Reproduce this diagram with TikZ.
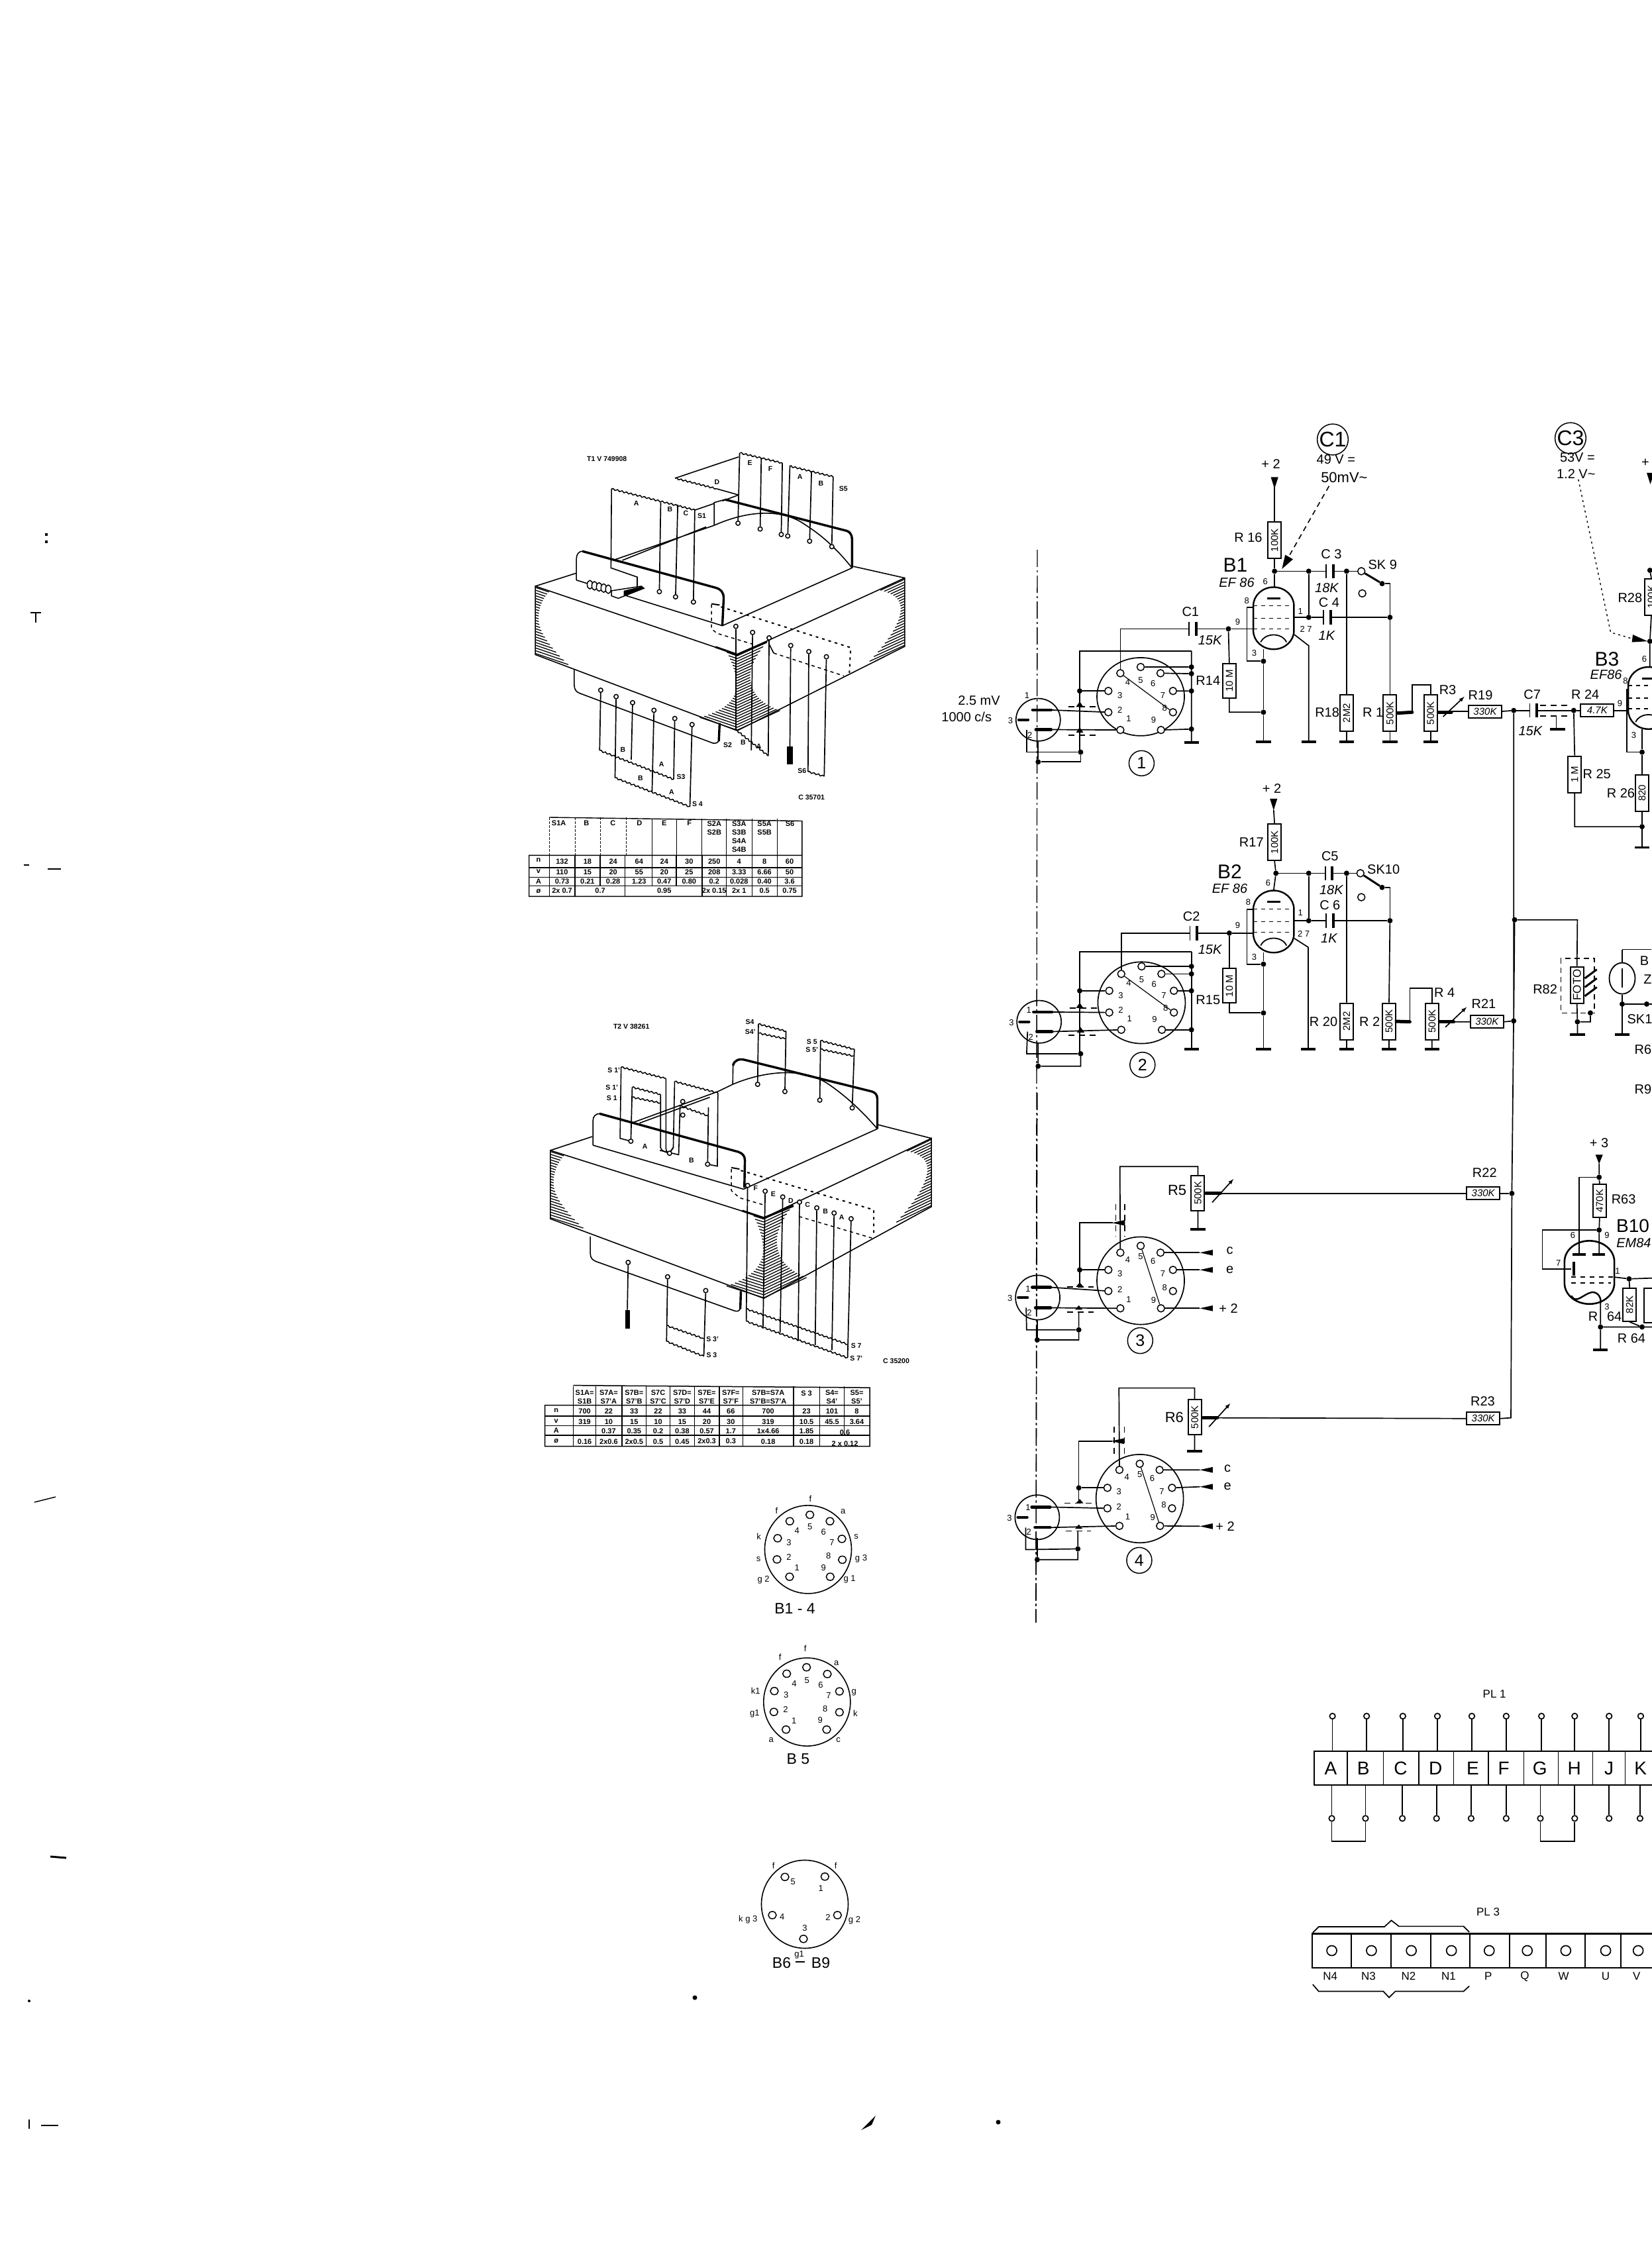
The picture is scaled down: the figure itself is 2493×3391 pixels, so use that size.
\documentclass[tikz,border=0pt]{standalone}
\usepackage{fontspec}
\setmainfont{Liberation Sans}
\usetikzlibrary{shapes.geometric,decorations.pathmorphing}
\newcounter{tn}
\def\yfac{0.67}
\tikzset{
 zA/.style={shift={(1400,620)},x=0.697pt,y=-0.6696pt},
 zB/.style={shift={(1400,1650)},x=0.697pt,y=-0.5421pt},
 zC/.style={shift={(760,660)},x=0.408pt,y=-0.4592pt},
 zD/.style={shift={(790,1520)},x=0.408pt,y=-0.4337pt},
 zE/.style={shift={(1050,2240)},x=0.3333pt,y=-0.4847pt},
 zF/.style={shift={(1950,2540)},x=0.346pt,y=-0.3189pt},
 wire/.style={line width=1.7pt},
 fine/.style={line width=1.2pt},
 heavy/.style={line width=4.5pt},
 bob/.style={line width=3.4pt},
 shield/.style={line width=1.7pt,dash pattern=on 9pt off 7pt},
 txt/.style={inner sep=0pt,font=\fontsize{20}{22}\selectfont},
 tsm/.style={font=\fontsize{13}{14}\selectfont},
 tit/.style={font=\itshape\fontsize{20}{22}\selectfont},
 tla/.style={font=\fontsize{28}{30}\selectfont},
 ttr/.style={font=\bfseries\fontsize{10.5}{12}\selectfont},
 ttb/.style={font=\bfseries\fontsize{11}{13}\selectfont,align=center},
 tba/.style={font=\fontsize{13}{14}\selectfont},
 tbt/.style={font=\fontsize{23}{25}\selectfont},
 dotn/.style={circle,fill=black,inner sep=0pt,minimum size=8pt},
 pinn/.style={circle,draw,line width=1.5pt,fill=white,inner sep=0pt,minimum size=11pt},
 resv/.style={draw,line width=2pt,rotate=90,inner sep=0pt,minimum width=55pt,minimum height=20pt,font=\fontsize{15}{16}\selectfont},
 resh/.style={draw,line width=2pt,inner sep=0pt,minimum width=50pt,minimum height=19pt,font=\itshape\fontsize{15}{16}\selectfont},
 sockb/.style={draw,ellipse,line width=1.7pt,inner sep=0pt,minimum width=132pt},
 micb/.style={draw,ellipse,line width=1.7pt,inner sep=0pt,minimum width=67pt},
 ringn/.style={draw,ellipse,line width=1.5pt,inner sep=0pt,minimum width=38pt,font=\fontsize{25}{27}\selectfont},
 corel/.style={line width=1.6pt},
 hat/.style={line width=1.3pt},
 zig/.style={line width=1.5pt,decorate,decoration={snake,segment length=7pt,amplitude=1.1pt}},
 tpin/.style={circle,draw,line width=1.5pt,fill=white,inner sep=0pt,minimum size=6.5pt},
 bpin/.style={draw,ellipse,line width=1.5pt,inner sep=0pt,minimum width=12pt,minimum height=11pt},
 bbody/.style={draw,ellipse,line width=1.6pt,inner sep=0pt,minimum width=131pt,minimum height=133pt},
 plpin/.style={circle,draw,line width=1.7pt,fill=white,inner sep=0pt,minimum size=8.5pt},
 plcirc/.style={circle,draw,line width=1.7pt,inner sep=0pt,minimum size=15pt},
}
\newcommand\Lab[4][]{\stepcounter{tn}\node[txt,#1] (t\thetn) at ({#2},{#3}) {#4};}
\newcommand\Dot[3]{\node[dotn] (#1) at (#2,#3) {};}
\newcommand\Gnd[2]{\draw[line width=3.6pt] ({#1-16},#2) -- ({#1+16},#2);}
\newcommand\TriD[2]{\fill (#1-8,#2) -- (#1+8,#2) -- (#1,#2+26) -- cycle;}
\newcommand\TriL[2]{\fill (#1,#2) -- (#1+28,#2-8) -- (#1+28,#2+8) -- cycle;}
\newcommand\TriU[2]{\fill (#1-8,#2) -- (#1+8,#2) -- (#1,#2-12) -- cycle;}
\newcommand\CapC[3]{\coordinate (#1-l) at ({#2-8},#3); \coordinate (#1-r) at ({#2+9},#3);
 \draw[line width=1.5pt] ({#2-8},{#3-16}) -- ({#2-8},{#3+16});
 \draw[line width=4pt] ({#2+7},{#3-16}) -- ({#2+7},{#3+16});}
\newcommand\Wip[5]{% x1 x2 y, diag from - to
 \draw[line width=5pt,line cap=round] (#1,#3) -- (#2,#3);
 \draw[wire,-latex] ({#2-18},{#3+#4}) -- ({#2+28},{#3-#5});}
\newcommand\Sock[9]{%
 \node[sockb,minimum height={#4*2*\yfac*1pt}] (#1) at (#2,#3) {};
 \node[pinn] (#1p5) at ({#2},{#3+#5}) {};
 \node[pinn] (#1p4) at ({#2-44},{#3+#6}) {};
 \node[pinn] (#1p6) at ({#2+43},{#3+#6}) {};
 \node[pinn] (#1p3) at ({#2-70},{#3+#7}) {};
 \node[pinn] (#1p7) at ({#2+70},{#3+#7}) {};
 \node[pinn] (#1p2) at ({#2-70},{#3+#8}) {};
 \node[pinn] (#1p8) at ({#2+70},{#3+#8}) {};
 \node[pinn] (#1p1) at ({#2-44},{#3+#9}) {};
 \node[pinn] (#1p9) at ({#2+44},{#3+#9}) {};
 \Lab[tsm]{#2-44+16}{#3+#6+20}{4}
 \Lab[tsm]{#2}{#3+#5+30}{5}
 \Lab[tsm]{#2+43-16}{#3+#6+24}{6}
 \Lab[tsm]{#2+70-22}{#3+#7+10}{7}
 \Lab[tsm]{#2+70-18}{#3+#8-10}{8}
 \Lab[tsm]{#2+44-16}{#3+#9-23}{9}
 \Lab[tsm]{#2-44+18}{#3+#9-25}{1}
 \Lab[tsm]{#2-70+25}{#3+#8-5}{2}
 \Lab[tsm]{#2-70+25}{#3+#7+10}{3}
}
\newcommand\Mic[4]{%
 \pgfmathsetmacro\dyq{#4*0.46}
 \node[micb,minimum height={#4*2*\yfac*1pt}] (#1) at (#2,#3) {};
 \coordinate (#1a) at ({#2+28},{#3-\dyq});
 \coordinate (#1b) at ({#2+28},{#3+\dyq});
 \coordinate (#1g) at ({#2-25},{#3+\dyq});
 \draw[line width=4.4pt,line cap=round] ({#2-12},{#3-\dyq}) -- (#1a);
 \draw[line width=4.4pt,line cap=round] ({#2-5},{#3+\dyq}) -- (#1b);
 \draw[line width=4.4pt,line cap=round] ({#2-42},#3) -- ({#2-22},#3);
 \Lab[tsm]{#2-60}{#3+2}{3}
 \Lab[tsm]{#2-18}{#3+\dyq+13}{2}
}
\newcommand\Pent[2]{%
 \draw[line width=2.4pt] ({#1-44},{#2-28}) arc (180:360:44 and 42) -- ({#1+44},{#2+28}) arc (0:180:44 and 42) -- cycle;
 \draw[line width=3pt] ({#1-14},{#2-44}) -- ({#1+14},{#2-44});
 \foreach \yq in {-28,0,24} \draw[line width=1.7pt,dash pattern=on 6pt off 6pt] ({#1-44},{#2+\yq}) -- ({#1+44},{#2+\yq});
 \draw[line width=1.8pt] ({#1-28},{#2+54}) .. controls ({#1-18},{#2+32}) and ({#1+18},{#2+32}) .. ({#1+28},{#2+54});
}
\newcommand\Stem[4]{\stepcounter{tn}\node[tpin] (p\thetn) at (#1,#2) {}; \draw[line width=1.7pt] (p\thetn) -- (#3,#4);}
\newcommand\Core[8]{%
 \pgfmathsetmacro\slL{(#4-#2)/(#3-#1)}
 \pgfmathsetmacro\slR{(#4-#6)/(#5-#3)}
 \draw[corel] (#1,#2) -- (#3,#4) -- (#5,#6) -- (#5,{#6+#7}) -- (#3,{#4+#8}) -- (#1,{#2+#7}) -- cycle;
 \draw[line width=3pt] ({#3-80},{#4-25}) -- (#3,#4) -- ({#3+110},{#4-42});
 \foreach \i in {0,...,24}{
  \pgfmathsetmacro\tq{\i/24}
  \pgfmathsetmacro\La{12+(\tq<.46)*38*((.46-\tq)/.46)^2+(\tq>=.46)*110*((\tq-.46)/.54)^2}
  \pgfmathsetmacro\Lb{15+(\tq<.42)*75*((.42-\tq)/.42)^2+(\tq>=.42)*115*((\tq-.42)/.58)^2}
  \draw[hat] (#1,{#2+4+\tq*(#7-8)}) -- ++({\La},{\La*\slL});
  \draw[hat] (#5,{#6+4+\tq*(#7-8)}) -- ++({-\Lb},{\Lb*\slR});
 }
 \foreach \i in {0,...,27}{
  \pgfmathsetmacro\tq{\i/27}
  \pgfmathsetmacro\Lc{3+(\tq<.4)*35*((.4-\tq)/.4)^2+(\tq>=.4)*135*((\tq-.4)/.6)^2}
  \pgfmathsetmacro\Ld{48+(\tq<.35)*60*((.35-\tq)/.35)^2+(\tq>=.35)*110*((\tq-.35)/.65)^2}
  \draw[hat] (#3,{#4+4+\tq*(#8-6)}) -- ++({-\Lc},{-\Lc*\slL});
  \draw[hat] (#3,{#4+4+\tq*(#8-6)}) -- ++({\Ld},{-\Ld*\slR});
 }
}
\begin{document}
\begin{tikzpicture}[x=1pt,y=-1pt]
\path[use as bounding box,fill=white] (0,0) rectangle (2493,3391);
% ---- specks
\fill (68,805) rectangle (72,809); \fill (68,816) rectangle (72,820);
\draw[line width=2pt] (46,925) -- (62,925) (54,925) -- (54,940);
\draw[fine] (36,1306) -- (44,1306) (72,1312) -- (92,1312);
\draw[line width=1.5pt] (52,2268) -- (84,2260);
\draw[line width=3pt] (76,2803) -- (100,2805);
\fill (44,3021) circle (2pt);
\draw[line width=1.5pt] (44,3200) -- (44,3214) (62,3209) -- (88,3209);
\fill (1300,3216) -- (1322,3194) -- (1316,3208) -- cycle;
\fill (1507,3204) circle (3.5pt);
\fill (1049,3016) circle (3.5pt);
% ---- dash-dot axis and bus
\coordinate (ax1) at (1566,830); \coordinate (ax2) at (1564,2450);
\draw[line width=1.4pt,dash pattern=on 26pt off 5pt on 3pt off 5pt] (ax1) -- (ax2);
%
% ===== upper schematic
\begin{scope}[zA]
\def\yfac{0.67}
\Sock{sa}{462}{645}{88}{-67}{-53}{-13}{35}{75}
\Mic{ma}{240}{697}{48}
\Lab[tsm]{216}{642}{1}
\Lab{112}{653}{2.5 mV}
\Lab{85}{690}{1000 c/s}
\node[ringn,minimum height=38pt] (ra) at (464,795) {1};
\Dot{a5}{572}{578}\Dot{a6}{572}{593}\Dot{a7}{572}{632}\Dot{a9}{572}{718}
\coordinate (atop) at (572,542); \coordinate (abot) at (572,748); \coordinate (al) at (330,542);
\Dot{a3}{330}{632}\Dot{a0}{332}{770}\Dot{a00}{240}{792}
\draw[wire] (sap5) -- (a5) (sap6) -- (a6) (sap7) -- (a7) (sap9) -- (a9) (atop) -- (abot);
\Gnd{572}{748}
\draw[wire] (atop) -- (al) -- (330,770) (a3) -- (sap3);
\draw[fine] (sap4) -- (sap8);
\draw[wire] (maa) -- (sap2) (mab) -- (sap1);
\draw[shield] (305,668) -- (365,668) (305,732) -- (365,732);
\TriU{330}{668}\TriU{330}{726}
\draw[wire] (mag) -- (215,770) -- (a0) (240,745) -- (a00) -- (332,792) -- (a0);
\CapC{C1}{575}{492}
\Dot{g1}{652}{492}
\draw[wire] (sap4) |- (C1-l) (C1-r) -- (g1) -- (706,492);
\node[resv,minimum width=52pt] (R14) at (654,609) {10 M};
\Lab{608}{608}{R14}
\coordinate (r14b) at (654,680); \Dot{k1}{728}{680}
\draw[wire] (g1) -- (R14.east) (R14.west) -- (r14b) -- (k1);
\Pent{750}{468}
\Dot{k0}{728}{565}
\coordinate (kb) at (728,745);
\draw[wire] (692,444) -- (692,565) -- (k0) (706,444) -- (692,444);
\draw[wire] (728,538) -- (k0) -- (k1) -- (kb);
\Gnd{728}{747}
\draw[wire] (795,505) -- (826,530) -- (826,745); \Gnd{826}{747}
% R16
\Lab{744}{120}{+ 2}
\TriD{752}{150}
\node[resv] (R16) at (752,292) {100K};
\Dot{p1}{752}{362}\Dot{p2}{826}{362}\Dot{p3}{908}{362}\Dot{p4}{826}{466}\Dot{p5}{1002}{466}\Dot{p6}{985}{390}
\draw[wire] (752,172) -- (R16.east) (R16.west) -- (p1) -- (752,398);
\CapC{C3}{872}{362}\CapC{C4}{866}{466}
\draw[wire] (p1) -- (p2) -- (C3-l) (C3-r) -- (p3);
\node[pinn] (sw1) at (940,362) {}; \node[pinn] (sw2) at (942,412) {};
\draw[wire] (p3) -- (sw1); \draw[line width=3pt] (sw1) -- (p6);
\draw[wire] (p6) -- (1002,390) -- (p5);
\draw[wire] (p2) -- (p4) -- (C4-l) (795,466) -- (p4) (C4-r) -- (p5);
\node[resv] (R18) at (908,682) {2M2};
\node[resv] (R1) at (1002,682) {500K};
\node[resv] (R3) at (1090,682) {500K};
\draw[wire] (p3) -- (R18.east) (R18.west) -- (908,747) (p5) -- (R1.east) (R1.west) -- (1002,747) (R3.west) -- (1090,747);
\Gnd{908}{747}\Gnd{1002}{747}\Gnd{1090}{747}
\draw[line width=5pt,line cap=round] (R1.south) -- (1050,680);
\draw[wire] (1050,680) -- (1050,618) -- (1090,618) -- (R3.east);
\Wip{1107}{1135}{680}{10}{35}
\node[resh] (R19) at (1208,678) {330K};
\Dot{bus1}{1270}{676}
\draw[wire] (1135,678) -- (R19.west) (R19.east) -- (bus1);
\CapC{C7}{1313}{676}
\Dot{q1}{1400}{676}
\node[resh] (R24) at (1451,676) {4.7K};
\draw[wire] (bus1) -- (C7-l) (C7-r) -- (q1) -- (R24.west) (R24.east) -- (1518,676);
\draw[shield] (1327,665) -- (1390,665) (1327,688) -- (1390,688);
\draw[wire] (1362,688) -- (1362,718); \Gnd{1365}{718}
\node[resv] (R25) at (1402,820) {1 M};
\Dot{q2}{1548}{938}\Dot{q3}{1548}{770}
\draw[wire] (q1) -- (R25.east) (R25.west) -- (1402,938) -- (q2);
\node[resv] (R26) at (1548,862) {820};
\draw[wire] (q3) -- (R26.east) (R26.west) -- (q2) -- (1548,985); \Gnd{1548}{985}
\Pent{1562}{648}
\draw[wire] (1518,628) -- (1515,628) -- (1515,770) -- (q3) (1548,718) -- (q3);
\node[resv] (R28) at (1568,420) {100K};
\Dot{q4}{1565}{520}\Dot{q5}{1565}{360}
\draw[wire] (q5) -- (R28.east) (R28.west) -- (q4) -- (1565,578);
\TriD{1566}{140}
% labels
\Lab{570}{453}{C1}\Lab[tit]{612}{518}{15K}\Lab{875}{323}{C 3}\Lab[tit]{865}{400}{18K}
\Lab{870}{432}{C 4}\Lab[tit]{865}{507}{1K}\Lab{695}{286}{R 16}
\Lab[font=\fontsize{30}{32}\selectfont]{667}{348}{B1}\Lab[tit]{670}{387}{EF 86}
\Lab[tsm]{732}{386}{6}\Lab[tsm]{692}{428}{8}\Lab[tsm]{672}{477}{9}\Lab[tsm]{808}{452}{1}\Lab[tsm]{820}{493}{2 7}\Lab[tsm]{708}{546}{3}
\Lab{866}{680}{R18}\Lab{965}{680}{R 1}\Lab{1127}{630}{R3}\Lab{1198}{642}{R19}\Lab{986}{347}{SK 9}
\Lab{1310}{640}{C7}\Lab[tit]{1306}{722}{15K}\Lab{1425}{640}{R 24}\Lab[tsm]{1500}{660}{9}\Lab[tsm]{1530}{732}{3}
\Lab{1522}{422}{R28}\Lab{1450}{820}{R 25}\Lab{1502}{862}{R 26}
\Lab[font=\fontsize{30}{32}\selectfont]{1472}{560}{B3}\Lab[tit]{1470}{595}{EF86}\Lab[tsm]{1553}{560}{6}\Lab[tsm]{1512}{610}{8}\Lab{1555}{118}{+}
% C1 / C3
\node[draw,circle,line width=1.5pt,inner sep=0pt,minimum size=39pt,font=\fontsize{32}{34}\selectfont] (cc1) at (878,65) {C1};
\Lab{885}{110}{49 V =}\Lab[font=\fontsize{22}{24}\selectfont]{903}{150}{50mV\textasciitilde}
\coordinate (ca) at (870,170); \coordinate (cb) at (768,357);
\draw[line width=1.6pt,dash pattern=on 8pt off 6pt] (ca) -- (785,325);
\fill (cb) -- (775,325) -- (792,335) -- cycle;
\node[draw,circle,line width=1.5pt,inner sep=0pt,minimum size=39pt,font=\fontsize{32}{34}\selectfont] (cc3) at (1393,62) {C3};
\Lab{1408}{105}{53V =}\Lab{1405}{143}{1.2 V\textasciitilde}
\coordinate (cc) at (1410,155);
\draw[line width=1.4pt,dash pattern=on 3pt off 5pt] (cc) -- (1480,500) -- (1530,515);
\fill (1560,520) -- (1528,505) -- (1526,522) -- cycle;
%
% ---- block 2
\Sock{sb}{464}{1335}{92}{-82}{-65}{-27}{22}{61}
\Mic{mb}{242}{1378}{48}
\Lab[tsm]{220}{1352}{1}
\node[ringn,minimum height=38pt] (rb) at (466,1475) {2};
\Dot{b5}{572}{1253}\Dot{b6}{572}{1270}\Dot{b7}{572}{1308}\Dot{b9}{572}{1396}
\coordinate (btop) at (572,1220); \coordinate (bl) at (330,1220);
\Dot{b3}{330}{1308}\Dot{b0}{332}{1450}\Dot{b00}{240}{1478}
\draw[wire] (sbp5) -- (b5) (sbp6) -- (b6) (sbp7) -- (b7) (sbp9) -- (b9) (btop) -- (572,1440);
\Gnd{572}{1440}
\draw[wire] (btop) -- (bl) -- (330,1450) (b3) -- (sbp3);
\draw[fine] (sbp4) -- (sbp8);
\draw[wire] (mba) -- (sbp2) (mbb) -- (sbp1);
\draw[shield] (308,1347) -- (370,1347) (305,1408) -- (365,1408);
\TriU{330}{1347}\TriU{332}{1402}
\draw[wire] (mbg) -- (215,1450) -- (b0) (240,1425) -- (b00) -- (332,1478) -- (b0);
\CapC{C2}{577}{1178}
\Dot{g2}{654}{1178}
\draw[wire] (sbp4) |- (C2-l) (C2-r) -- (g2) -- (706,1178);
\node[resv,minimum width=52pt] (R15) at (654,1297) {10 M};
\Lab{608}{1328}{R15}
\Dot{k3}{728}{1358}
\draw[wire] (g2) -- (R15.east) (R15.west) -- (654,1358) -- (k3);
\Pent{750}{1152}
\Dot{k2}{728}{1248}
\draw[wire] (706,1125) -- (692,1125) -- (692,1248) -- (k2);
\draw[wire] (728,1222) -- (k2) -- (k3) -- (728,1440);
\Gnd{728}{1440}
\draw[wire] (795,1190) -- (825,1210) -- (825,1440); \Gnd{825}{1440}
\Lab{746}{852}{+ 2}
\TriD{750}{875}
\node[resv] (R17) at (752,973) {100K};
\Dot{u1}{755}{1043}\Dot{u2}{826}{1043}\Dot{u3}{908}{1043}\Dot{u4}{826}{1150}\Dot{u5}{1002}{1150}\Dot{u6}{985}{1075}
\draw[wire] (750,900) -- (R17.east) (R17.west) -- (u1) -- (750,1082);
\CapC{C5}{870}{1043}\CapC{C6}{872}{1150}
\draw[wire] (u1) -- (u2) -- (C5-l) (C5-r) -- (u3);
\node[pinn] (sw3) at (938,1043) {}; \node[pinn] (sw4) at (940,1097) {};
\draw[wire] (u3) -- (sw3); \draw[line width=3pt] (sw3) -- (u6);
\draw[wire] (u6) -- (1002,1075) -- (u5);
\draw[wire] (u2) -- (u4) -- (C6-l) (795,1150) -- (u4) (C6-r) -- (u5);
\node[resv] (R20) at (908,1377) {2M2};
\node[resv] (R2) at (1000,1377) {500K};
\node[resv] (R4) at (1093,1377) {500K};
\draw[wire] (u3) -- (R20.east) (R20.west) -- (908,1440) (u5) -- (R2.east) (R2.west) -- (1000,1440) (R4.west) -- (1093,1440);
\Gnd{908}{1440}\Gnd{1000}{1440}\Gnd{1093}{1440}
\draw[line width=5pt,line cap=round] (R2.south) -- (1045,1378);
\draw[wire] (1045,1378) -- (1045,1302) -- (1093,1302) -- (R4.east);
\Wip{1110}{1140}{1378}{12}{33}
\node[resh] (R21) at (1212,1378) {330K};
\Dot{bus2}{1270}{1376}\Dot{bus3}{1272}{1148}
\draw[wire] (1140,1378) -- (R21.west) (R21.east) -- (bus2);
\Lab{572}{1140}{C2}\Lab[tit]{612}{1215}{15K}\Lab{872}{1005}{C5}\Lab[tit]{875}{1080}{18K}\Lab{872}{1115}{C 6}\Lab[tit]{870}{1190}{1K}
\Lab{702}{973}{R17}\Lab[font=\fontsize{30}{32}\selectfont]{655}{1040}{B2}\Lab[tit]{655}{1078}{EF 86}
\Lab[tsm]{738}{1065}{6}\Lab[tsm]{695}{1108}{8}\Lab[tsm]{672}{1160}{9}\Lab[tsm]{808}{1132}{1}\Lab[tsm]{815}{1180}{2 7}\Lab[tsm]{708}{1232}{3}
\Lab{858}{1378}{R 20}\Lab{958}{1378}{R 2}\Lab{1120}{1312}{R 4}\Lab{1205}{1338}{R21}\Lab{988}{1035}{SK10}
% R82
\node[resv,font=\fontsize{17}{18}\selectfont] (R82) at (1407,1295) {FOTO};
\draw[wire] (bus3) -- (1408,1148) -- (R82.east);
\draw[line width=1.5pt,dash pattern=on 8pt off 6pt] (1372,1235) rectangle (1445,1358);
\Dot{f1}{1408}{1378}\Dot{f2}{1436}{1358}
\draw[wire] (R82.west) -- (f1) -- (1408,1405) (f1) -- (1436,1378) -- (f2);
\Gnd{1408}{1407}
\foreach \yq in {1270,1290,1310} \draw[line width=3pt] (1424,\yq+10) -- (1450,\yq-10);
\Lab{1338}{1305}{R82}
% stabiliser tube
\node[draw,ellipse,line width=1.8pt,inner sep=0pt,minimum width=39pt,minimum height=47pt] (zt) at (1505,1280) {};
\draw[wire] (1505,1215) -- (zt.north) (1505,1215) -- (1568,1215) (zt.south) -- (1505,1405);
\draw[line width=2.5pt] (1505,1258) -- (1505,1300);
\Gnd{1505}{1407}
\Dot{z1}{1558}{1338}\Dot{z2}{1505}{1338}
\draw[wire] (z2) -- (z1) -- (1590,1338);
\Lab{1553}{1240}{B}\Lab{1560}{1283}{Z}\Lab{1543}{1372}{SK1}\Lab{1550}{1440}{R6}\Lab{1550}{1530}{R9}
\end{scope}
%
% ===== lower schematic
\draw[line width=1.4pt,dash pattern=on 26pt off 5pt on 3pt off 5pt] (ax2) -- (1564,2450);
\begin{scope}[zB]
\def\yfac{0.5421}
\coordinate (ax3) at (238,0); \coordinate (ax4) at (235,1475);
\draw[line width=1.4pt,dash pattern=on 26pt off 5pt on 3pt off 5pt] (ax3) -- (ax4);
\Sock{sc}{462}{523}{122}{-97}{-78}{-30}{29}{77}
\Mic{mc}{239}{570}{62}
\Lab[tsm]{218}{546}{1}
\node[ringn,minimum width=38pt,minimum height=39pt] (rc) at (461,690) {3};
\node[resv,minimum width=53pt] (R5) at (586,279) {500K};
\Lab[font=\fontsize{22}{24}\selectfont]{541}{272}{R5}
\Dot{c0}{328}{660}\Dot{c00}{238}{688}\Dot{c3}{330}{493}
\draw[wire] (scp4) -- (417,205) -- (586,205) -- (R5.east) (R5.west) -- (586,380);
\Gnd{586}{380}
\draw[shield] (408,310) -- (408,400) (428,310) -- (428,400);
\TriL{400}{362}
\draw[wire] (402,362) -- (330,362) -- (330,533) (c3) -- (scp3);
\draw[shield] (303,540) -- (360,540) (303,610) -- (360,610);
\TriU{330}{540}\TriU{328}{604}
\draw[wire] (328,610) -- (c0) (mcg) -- (215,660) -- (c0) (238,632) -- (c00) -- (328,688) -- (c0);
\draw[wire] (mca) -- (scp2) (mcb) -- (scp1);
\draw[fine] (scp5) -- (scp9);
\TriL{590}{445}\TriL{590}{493}\TriL{590}{600}
\draw[wire] (scp6) -- (590,445) (scp7) -- (590,493) (scp9) -- (590,600);
\Lab{655}{440}{c}\Lab{655}{493}{e}\Lab{652}{600}{+ 2}
\Wip{603}{635}{280}{25}{40}
\node[resh] (R22) at (1204,280) {330K};
\Dot{bus4}{1266}{280}
\draw[wire] (635,280) -- (R22.west) (R22.east) -- (bus4);
\Lab{1207}{222}{R22}
%
\Sock{sd}{460}{1130}{123}{-97}{-80}{-30}{27}{76}
\Mic{md}{238}{1182}{62}
\Lab[tsm]{218}{1155}{1}
\node[ringn,minimum width=38pt,minimum height=39pt] (rd) at (459,1302) {4};
\node[resv,minimum width=53pt] (R6) at (579,903) {500K};
\Lab[font=\fontsize{22}{24}\selectfont]{535}{903}{R6}
\Dot{d0}{326}{1270}\Dot{d00}{238}{1300}\Dot{d3}{328}{1100}
\draw[wire] (sdp4) -- (415,822) -- (579,822) -- (R6.east) (R6.west) -- (579,998);
\Gnd{579}{998}
\draw[shield] (405,930) -- (405,1010) (427,930) -- (427,1010);
\TriL{398}{970}
\draw[wire] (400,970) -- (328,970) -- (328,1140) (d3) -- (sdp3);
\draw[shield] (297,1143) -- (358,1143) (300,1220) -- (355,1220);
\TriU{330}{1143}\TriU{328}{1214}
\draw[wire] (326,1222) -- (d0) (mdg) -- (213,1272) -- (d0) (238,1240) -- (d00) -- (326,1300) -- (d0);
\draw[wire] (mda) -- (sdp2) (mdb) -- (sdp1);
\draw[fine] (sdp5) -- (sdp9);
\TriL{590}{1050}\TriL{590}{1097}\TriL{590}{1207}
\draw[wire] (sdp6) -- (590,1050) (sdp7) -- (590,1097) (sdp9) -- (590,1207);
\Lab{650}{1047}{c}\Lab{650}{1097}{e}\Lab{645}{1207}{+ 2}
\Wip{597}{628}{905}{25}{40}
\node[resh] (R23) at (1204,907) {330K};
\coordinate (busb) at (1264,905);
\draw[wire] (628,905) -- (R23.west) (R23.east) -- (busb) -- (bus4) -- (bus3) -- (bus2) -- (bus1);
\Lab{1203}{858}{R23}
% B10
\Lab{1455}{140}{+ 3}
\TriD{1455}{172}
\node[resv,minimum width=50pt] (R63) at (1456,301) {470K};
\Dot{e1}{1455}{235}\Dot{e2}{1455}{382}\Dot{e3}{1520}{518}\Dot{e4}{1458}{652}\Dot{e5}{1548}{652}
\draw[wire] (1455,197) -- (e1) -- (R63.east) (R63.west) -- (e2) -- (1455,450);
\draw[wire] (e1) -- (1412,235) -- (1412,450);
\draw[wire] (e2) -- (1332,382) -- (1332,490) -- (1395,490);
\draw[line width=2.6pt] (1380,470) arc (180:360:54 and 58) -- (1488,530) arc (0:180:54 and 58) -- cycle;
\draw[line width=3.4pt] (1398,450) -- (1426,450) (1440,450) -- (1468,450);
\draw[line width=3.4pt] (1400,470) -- (1400,510);
\draw[line width=1.7pt,dash pattern=on 7pt off 7pt] (1395,513) -- (1488,513) (1395,530) -- (1480,530);
\draw[line width=2.4pt] (1395,565) .. controls (1405,590) and (1420,560) .. (1440,555) .. controls (1455,555) and (1460,575) .. (1458,585);
\draw[wire] (1488,513) -- (e3) -- (1590,515);
\node[resv,minimum width=50pt] (R64) at (1521,590) {82K};
\draw[wire] (e3) -- (R64.east) (R64.west) -- (e5) (1458,585) -- (e4) -- (e5) -- (1590,652) (e4) -- (1458,715);
\Gnd{1458}{716}
\draw[line width=2pt] (1590,545) -- (1553,545) -- (1553,640) -- (1590,640);
\Lab[tsm]{1398}{397}{6}\Lab[tsm]{1472}{397}{9}\Lab[tsm]{1367}{475}{7}\Lab[tsm]{1495}{497}{1}\Lab[tsm]{1472}{595}{3}
\Lab{1508}{297}{R63}\Lab[font=\fontsize{28}{30}\selectfont]{1528}{370}{B10}\Lab[tit]{1530}{418}{EM84}
\Lab{1442}{623}{R}\Lab{1488}{623}{64}\Lab{1525}{684}{R 64}
\end{scope}
%
% ===== transformer T1
\begin{scope}[zC]
\Core{118}{490}{865}{715}{1485}{463}{225}{250}
\draw[corel] (118,490) -- (270,447) (1295,425) -- (1485,463);
% upper front bobbin
\draw[corel] (270,470) -- (270,400) .. controls (270,385) and (280,375) .. (292,375);
\draw[bob] (292,375) -- (785,495) .. controls (805,500) and (815,510) .. (815,530) -- (810,620);
\draw[corel] (270,470) -- (810,620) -- (1290,430);
\draw[bob] (1290,430) -- (1290,335) .. controls (1290,320) and (1280,310) .. (1270,308) -- (820,205);
\draw[corel] (820,205) -- (780,215) -- (780,290);
\draw[corel] (780,290) .. controls (880,250) and (1020,225) .. (1120,290) .. controls (1190,330) and (1240,375) .. (1290,430);
\draw[corel] (405,405) -- (780,290) (440,405) -- (750,295);
% tabs
\draw[zig] (400,170) -- (710,240);
\draw[corel] (400,170) -- (398,430) -- (495,460) -- (495,490);
\Stem{577}{508}{582}{215}\Stem{637}{525}{645}{222}\Stem{703}{542}{708}{240}
\draw[corel] (708,240) -- (780,218);
\draw[corel] (635,135) -- (870,65) (810,210) -- (870,190);
\draw[zig] (635,135) -- (790,170);
\draw[corel] (790,170) -- (870,190);
\draw[zig] (875,52) -- (1032,85);
\Stem{868}{283}{874}{52}\Stem{950}{302}{954}{68}\Stem{1028}{320}{1032}{85}
\draw[zig] (1058,95) -- (1220,130);
\Stem{1052}{325}{1060}{95}\Stem{1133}{342}{1140}{112}\Stem{1215}{360}{1220}{130}
% spring
\foreach \xq in {320,337,354,371,388}
 \draw[line width=1.5pt,fill=white] (\xq,{485+(\xq-320)*.22}) ellipse (10 and 14);
\draw[line width=1.5pt,fill=white] (400,505) -- (510,490) -- (520,497) -- (425,530) -- (400,522) -- cycle;
\fill (445,505) -- (510,491) -- (518,497) -- (445,522) -- cycle;
% dashes
\draw[line width=2pt] (770,548) -- (800,552);
\draw[line width=1.5pt,dash pattern=on 5pt off 5pt] (770,550) -- (770,630) -- (790,645) -- (920,680);
\draw[line width=1.5pt,dash pattern=on 5pt off 5pt] (1000,710) -- (1260,785);
\draw[line width=2pt,dash pattern=on 4pt off 6pt] (805,558) -- (1285,692) -- (1280,775);
% bottom front stems
\Stem{860}{622}{860}{962}\Stem{922}{642}{917}{1030}\Stem{983}{660}{980}{1048}
\draw[zig] (860,962) -- (980,1048);
\draw[corel] (1000,710) -- (983,680);
\Stem{1063}{685}{1060}{1020}\Stem{1130}{705}{1127}{1100}\Stem{1195}{722}{1187}{1115}
\draw[zig] (1127,1100) -- (1187,1115);
\fill (1048,1018) rectangle (1070,1075);
% lower bobbin
\draw[corel] (262,765) -- (262,815) .. controls (262,830) and (270,838) .. (282,842) -- (775,1006) .. controls (785,1008) and (795,1005) .. (798,995);
\draw[bob] (800,940) -- (797,1000);
\Stem{360}{832}{356}{1030}\Stem{417}{853}{413}{1120}\Stem{478}{873}{473}{1060}
\Stem{557}{898}{550}{1165}\Stem{634}{925}{630}{1125}\Stem{698}{945}{690}{1215}
\draw[zig] (356,1030) -- (630,1125);
\draw[zig] (413,1120) -- (690,1215);
\Lab[ttr]{492}{217}{A}\Lab[ttr]{616}{238}{B}\Lab[ttr]{675}{250}{C}\Lab[ttr]{734}{258}{S1}\Lab[ttr]{790}{148}{D}\Lab[ttr]{912}{85}{E}\Lab[ttr]{988}{105}{F}
\Lab[ttr]{1097}{130}{A}\Lab[ttr]{1175}{152}{B}\Lab[ttr]{1258}{170}{S5}\Lab[ttr]{383}{72}{T1  V 749908}
\Lab[ttr]{887}{1003}{B}\Lab[ttr]{945}{1017}{A}\Lab[ttr]{830}{1012}{S2}\Lab[ttr]{1105}{1098}{S6}
\Lab[ttr]{442}{1027}{B}\Lab[ttr]{585}{1075}{A}\Lab[ttr]{507}{1122}{B}\Lab[ttr]{622}{1167}{A}\Lab[ttr]{657}{1117}{S3}\Lab[ttr]{718}{1207}{S 4}\Lab[ttr]{1140}{1185}{C 35701}
% table
\draw[line width=1.4pt] (170,1250) -- (1105,1262) -- (1105,1510) -- (95,1510) -- (95,1375) -- (1105,1375);
\draw[line width=1.6pt] (95,1415) -- (1105,1415) (95,1447) -- (1105,1447) (95,1475) -- (1105,1475);
\foreach \xq in {170,265,358,455}{\draw[line width=1pt,dash pattern=on 4pt off 2pt] (\xq,1250) -- (\xq,1375);}
\foreach \xq in {550,640,735,825,920,1013}{\draw[line width=1.1pt] (\xq,1255) -- (\xq,1375);}
\foreach \xq in {170,265,358,450,550,640,735,825,920,1013}{\draw[line width=1.3pt] (\xq,1375) -- (\xq,1475);}
\foreach \xq in {170,265,450,735,825,920,1013}{\draw[line width=1.3pt] (\xq,1475) -- (\xq,1510);}
\foreach \xq/\tq in {205/S1A,307/B,405/C,503/D,595/E,688/F}{\Lab[ttb]{\xq}{1268}{\tq}}
\foreach \xq/\tq in {780/{S2A\\S2B},872/{S3A\\S3B\\S4A\\S4B},966/{S5A\\S5B},1060/S6}{\stepcounter{tn}\node[txt,ttb,anchor=north] (h\thetn) at (\xq,1262) {\tq};}
\foreach \yq/\tq in {1390/n,1428/v,1461/A,1492/ø}{\Lab[ttb]{130}{\yq}{\tq}}
\foreach \xq/\tq in {217/132,311/18,406/24,502/64,595/24,687/30,780/250,872/4,966/8,1059/60}{\Lab[ttb]{\xq}{1395}{\tq}}
\foreach \xq/\tq in {217/110,311/15,406/20,502/55,595/20,687/25,780/208,872/3.33,966/6.66,1059/50}{\Lab[ttb]{\xq}{1431}{\tq}}
\foreach \xq/\tq in {217/0.73,311/0.21,406/0.28,502/1.23,595/0.47,687/0.80,780/0.2,872/0.028,966/0.40,1059/3.6}{\Lab[ttb]{\xq}{1461}{\tq}}
\foreach \xq/\tq in {217/2x 0.7,358/0.7,595/0.95,780/2x 0.15,872/2x 1,966/0.5,1059/0.75}{\Lab[ttb]{\xq}{1492}{\tq}}
\end{scope}
%
% ===== transformer T2
\begin{scope}[zD]
\Core{100}{500}{890}{735}{1510}{458}{238}{280}
\draw[corel] (100,500) -- (255,452) (1310,410) -- (1510,458);
\draw[corel] (258,482) -- (258,395) .. controls (258,382) and (268,372) .. (282,372);
\draw[bob] (282,372) -- (795,505) .. controls (812,510) and (820,520) .. (820,535) -- (818,630);
\draw[corel] (258,482) -- (815,635) -- (1310,425);
\draw[bob] (1310,425) -- (1310,320) .. controls (1310,305) and (1300,298) .. (1290,295) -- (820,185) .. controls (800,180) and (780,185) .. (776,205);
\draw[corel] (776,205) -- (775,270);
\draw[corel] (720,295) -- (775,270) .. controls (880,228) and (1030,205) .. (1130,270) .. controls (1200,315) and (1260,370) .. (1310,425);
\draw[corel] (400,405) -- (720,295) (430,405) -- (690,315);
% left tabs
\draw[zig] (362,210) -- (528,250);
\draw[zig] (403,280) -- (508,305);
\draw[zig] (403,315) -- (508,335);
\draw[zig] (560,260) -- (720,300);
\draw[zig] (580,345) -- (685,380);
\draw[corel] (362,210) -- (358,458) -- (398,468) (528,250) -- (528,495) .. controls (530,505) and (535,510) .. (540,510) (508,305) -- (508,490) .. controls (510,502) and (525,505) .. (540,510);
\draw[corel] (560,260) -- (555,490) -- (540,510) (580,345) -- (575,515) -- (505,500) (720,300) -- (718,555) -- (682,548);
\Stem{398}{468}{403}{280}\Stem{541}{510}{555}{490}\Stem{682}{548}{685}{350}
\node[tpin] (t2a) at (590,330) {}; \node[tpin] (t2b) at (590,377) {};
% top tabs
\draw[zig] (870,60) -- (972,85);
\draw[zig] (872,92) -- (972,112);
\Stem{867}{270}{870}{60}\Stem{968}{295}{972}{85}
\draw[zig] (1100,118) -- (1225,148);
\draw[zig] (1100,148) -- (1225,172);
\Stem{1097}{325}{1100}{118}\Stem{1217}{352}{1225}{148}
% dashes
\draw[line width=2pt] (770,560) -- (800,565);
\draw[line width=1.5pt,dash pattern=on 5pt off 5pt] (770,565) -- (770,640) -- (800,665) -- (890,690);
\draw[line width=1.5pt,dash pattern=on 5pt off 5pt] (1020,730) -- (1290,805);
\draw[line width=2pt,dash pattern=on 4pt off 6pt] (805,570) -- (1297,707) -- (1297,800);
% front stems
\Stem{830}{622}{825}{1095}\Stem{895}{642}{887}{1115}\Stem{960}{662}{950}{1135}\Stem{1022}{680}{1017}{1160}
\Stem{1086}{700}{1080}{1178}\Stem{1150}{718}{1142}{1195}\Stem{1213}{738}{1200}{1222}
\draw[zig] (825,1095) -- (1200,1222);
\draw[zig] (825,1052) -- (1200,1175);
% lower
\draw[corel] (248,800) -- (248,860) .. controls (248,875) and (258,883) .. (270,887) -- (780,1058) .. controls (790,1062) and (800,1060) .. (803,1050);
\draw[bob] (805,990) -- (803,1052);
\Stem{388}{890}{385}{1055}\Stem{534}{940}{530}{1165}\Stem{675}{988}{668}{1215}
\fill (378,1055) rectangle (395,1120);
\draw[zig] (530,1110) -- (668,1155);
\draw[zig] (530,1165) -- (668,1217);
\Lab[ttr]{335}{220}{S 1'}\Lab[ttr]{328}{280}{S 1'}\Lab[ttr]{328}{318}{S 1}\Lab[ttr]{450}{487}{A}\Lab[ttr]{622}{535}{B}\Lab[ttr]{400}{68}{T2 V 38261}
\Lab[ttr]{838}{52}{S4}\Lab[ttr]{840}{88}{S4'}\Lab[ttr]{1068}{122}{S 5}\Lab[ttr]{1068}{150}{S 5'}
\Lab[ttr]{860}{632}{F}\Lab[ttr]{925}{652}{E}\Lab[ttr]{990}{675}{D}\Lab[ttr]{1052}{690}{C}\Lab[ttr]{1118}{712}{B}\Lab[ttr]{1178}{732}{A}
\Lab[ttr]{1232}{1180}{S 7}\Lab[ttr]{1232}{1225}{S 7'}\Lab[ttr]{1380}{1233}{C 35200}\Lab[ttr]{700}{1158}{S 3'}\Lab[ttr]{697}{1213}{S 3}
% table
\draw[line width=1.5pt] (185,1318) -- (1282,1326) -- (1282,1530) -- (80,1530) -- (80,1387) -- (1282,1387);
\draw[line width=1.6pt] (80,1425) -- (1282,1425) (80,1458) -- (1282,1458) (80,1492) -- (1282,1492);
\foreach \xq in {185,268,365,455,543,633,725,812,1000,1097,1187}{\draw[line width=1.4pt] (\xq,1320) -- (\xq,1492);}
\foreach \xq in {185,268,365,455,543,633,725,812,1000,1097}{\draw[line width=1.4pt] (\xq,1492) -- (\xq,1530);}
\foreach \xq/\tq in {227/{S1A=\\S1B},316/{S7A=\\S7'A},410/{S7B=\\S7'B},499/{S7C\\S7'C},588/{S7D=\\S7'D},679/{S7E=\\S7'E},768/{S7F=\\S7'F},906/{S7B=S7A\\S7'B=S7'A},1142/{S4=\\S4'},1234/{S5=\\S5'}}{\stepcounter{tn}\node[txt,ttb] (h\thetn) at (\xq,1358) {\tq};}
\Lab[ttb]{1048}{1345}{S 3}
\foreach \yq/\tq in {1405/n,1442/v,1475/A,1512/ø}{\Lab[ttb]{122}{\yq}{\tq}}
\foreach \xq/\tq in {227/700,316/22,410/33,499/22,588/33,679/44,768/66,906/700,1048/23,1142/101,1234/8}{\Lab[ttb]{\xq}{1408}{\tq}}
\foreach \xq/\tq in {227/319,316/10,410/15,499/10,588/15,679/20,768/30,906/319,1048/10.5,1142/45.5,1234/3.64}{\Lab[ttb]{\xq}{1444}{\tq}}
\foreach \xq/\tq in {316/0.37,410/0.35,499/0.2,588/0.38,679/0.57,768/1.7,906/1x4.66,1048/1.85}{\Lab[ttb]{\xq}{1477}{\tq}}
\Lab[ttb]{1190}{1483}{0.6}
\foreach \xq/\tq in {227/0.16,316/2x0.6,410/2x0.5,499/0.5,588/0.45,679/2x0.3,768/0.3,906/0.18,1048/0.18}{\Lab[ttb]{\xq}{1513}{\tq}}
\Lab[ttb]{1190}{1520}{2 x 0.12}
\end{scope}
%
% ===== valve bases
\begin{scope}[zE]
\node[bbody] (ba) at (510,205) {};
\foreach \nq/\xq/\yq/\lx/\ly in {5/518/97/518/135,4/427/117/460/147,6/609/117/580/150,3/372/170/423/183,7/663/172/618/183,2/369/236/423/228,8/665/237/602/225,1/426/290/460/262,9/610/290/580/262}{
 \node[bpin] (ba\nq) at (\xq,\yq) {}; \Lab[tba]{\lx}{\ly}{\nq}}
\foreach \xq/\yq/\tq in {520/47/f,367/85/f,668/87/a,287/165/k,728/165/s,285/235/s,750/233/g 3,308/300/g 2,698/298/g 1}{\Lab[tba]{\xq}{\yq}{\tq}}
\Lab[tbt]{450}{388}{B1 - 4}
\node[bbody] (bb) at (505,680) {};
\foreach \nq/\xq/\yq/\lx/\ly in {5/503/572/505/612,4/413/592/447/623,6/597/593/567/627,3/357/646/410/658,7/652/647/603/660,2/355/711/408/703,8/652/712/587/702,1/410/766/446/738,9/594/766/565/737}{
 \node[bpin] (bb\nq) at (\xq,\yq) {}; \Lab[tba]{\lx}{\ly}{\nq}}
\foreach \xq/\yq/\tq in {497/513/f,383/541/f,638/560/a,272/645/k1,718/650/g,268/717/g1,724/715/k,343/798/a,647/798/c}{\Lab[tba]{\xq}{\yq}{\tq}}
\Lab[tbt]{465}{858}{B 5}
\node[bbody] (bc) at (495,1310) {};
\foreach \nq/\xq/\yq/\lx/\ly in {5/405/1225/442/1241,1/586/1224/568/1260,4/348/1344/392/1349,2/643/1344/600/1352,3/489/1418/495/1385}{
 \node[bpin] (bc\nq) at (\xq,\yq) {}; \Lab[tba]{\lx}{\ly}{\nq}}
\foreach \xq/\yq/\tq in {353/1190/f,635/1190/f,238/1358/k g 3,720/1360/g 2,470/1468/g1}{\Lab[tba]{\xq}{\yq}{\tq}}
\Lab[tbt]{390}{1492}{B6}\Lab[tbt]{567}{1492}{B9}
\draw[line width=2pt] (452,1490) -- (495,1490);
\end{scope}
%
% ===== plugs
\begin{scope}[zF]
\Lab[font=\fontsize{17}{19}\selectfont]{885}{55}{PL 1}
\draw[line width=2.2pt] (1600,325) -- (98,325) -- (98,485) -- (1600,485);
\foreach \xq in {243,400,555,706,858,1013,1163,1313,1455}{\draw[line width=1.6pt] (\xq,325) -- (\xq,485);}
\foreach \xq/\tq in {170/A,313/B,475/C,628/D,790/E,925/F,1083/G,1233/H,1385/J,1522/K}{\Lab[tla]{\xq}{408}{\tq}}
\foreach \xq [count=\nq] in {178,327,485,636,786,936,1090,1235,1385,1523}{
 \node[plpin] (pu\nq) at (\xq,160) {}; \draw[wire] (pu\nq) -- (\xq,325);}
\foreach \xq [count=\nq] in {175,322,483,632,783,936,1085,1235,1385,1520}{
 \node[plpin] (pd\nq) at (\xq,644) {}; \draw[wire] (\xq,485) -- (pd\nq);}
\draw[wire] (pd1) -- (175,752) -- (322,752) -- (pd2);
\draw[wire] (pd7) -- (1085,752) -- (1235,752) -- (pd8);
\Lab[font=\fontsize{17}{19}\selectfont]{857}{1087}{PL 3}
\draw[line width=2.2pt] (1600,1190) -- (90,1190) -- (90,1352) -- (1600,1352);
\foreach \xq in {260,433,606,778,950,1110,1280,1436}{\draw[line width=1.8pt] (\xq,1190) -- (\xq,1352);}
\foreach \xq [count=\nq] in {175,348,522,697,862,1028,1196,1370,1512}{\node[plcirc] (pc\nq) at (\xq,1270) {};}
\foreach \xq/\tq in {168/N4,335/N3,510/N2,685/N1,858/P,1017/Q,1187/W,1370/U,1505/V}{\Lab[font=\fontsize{17}{19}\selectfont]{\xq}{1392}{\tq}}
\draw[wire] (92,1185) -- (118,1157) -- (405,1157) -- (435,1127) -- (468,1155) -- (750,1155) -- (775,1182);
\draw[wire] (92,1430) -- (118,1463) -- (400,1463) -- (425,1492) -- (452,1463) -- (750,1463) -- (775,1438);
\end{scope}
\end{tikzpicture}
\end{document}
